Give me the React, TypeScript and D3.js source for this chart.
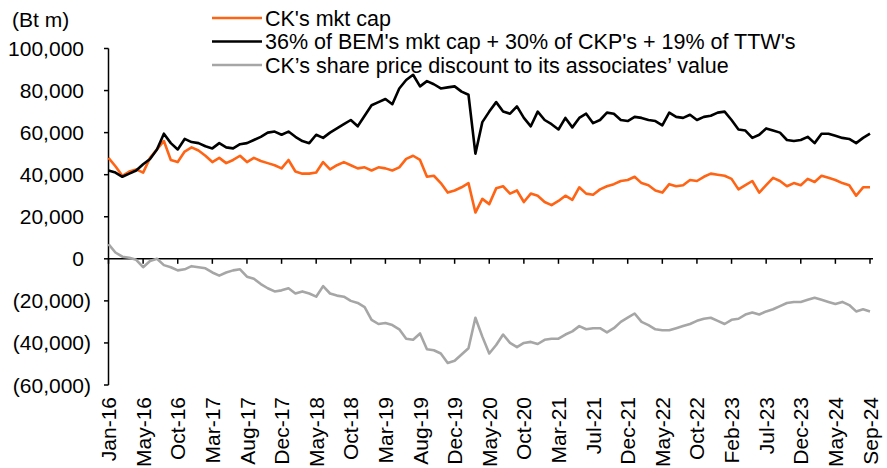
import React from 'react';
import * as d3 from 'd3';

// x axis is a category axis: one label every 5 points (~100 trading days)
const xLabels = [
  'Jan-16', 'May-16', 'Oct-16', 'Mar-17', 'Aug-17', 'Dec-17', 'May-18', 'Oct-18',
  'Mar-19', 'Aug-19', 'Dec-19', 'May-20', 'Oct-20', 'Mar-21', 'Jul-21', 'Dec-21',
  'May-22', 'Oct-22', 'Feb-23', 'Jul-23', 'Dec-23', 'May-24', 'Sep-24',
];

const yTicks = [100000, 80000, 60000, 40000, 20000, 0, -20000, -40000, -60000];

// values in Bt bn (x1000 -> Bt m)
const ckMktCap = [
  48, 44, 39.5, 41.5, 42.5, 41, 48, 52, 56, 47,
  46, 51, 53, 51.5, 49, 46, 48, 45.5, 47, 49,
  46, 48, 46.5, 45.5, 44.5, 43, 47, 41.5, 40.5, 40.5,
  41, 46, 42.5, 44.5, 46, 44.5, 43, 43.5, 42, 43.5,
  43, 42, 43.5, 47.5, 49, 47, 39, 39.5, 36, 31.5,
  32.5, 34, 36, 22, 28.5, 26, 33.5, 34.5, 31, 32.5,
  27, 31, 30, 27, 25.5, 27.5, 30, 28, 34, 31,
  30.5, 33, 34.5, 35.5, 37, 37.5, 39, 36, 35, 32.5,
  31.5, 35.5, 34.5, 35, 37.5, 37, 39, 40.5, 40, 39.5,
  38, 33, 35, 37, 31.5, 35, 38.5, 37, 34.5, 36,
  35, 38, 36.5, 39.5, 38.5, 37.5, 36, 35, 30, 34,
  34,
];

const associatesValue = [
  42, 41, 39, 40.5, 42, 45, 47.5, 52, 59.5, 55,
  52, 57, 55.5, 55, 53.5, 52.5, 55, 53, 52.5, 54.5,
  55, 56.5, 58, 60, 60.5, 59, 60.5, 58, 56, 55,
  59, 57.5, 60, 62, 64, 66, 63, 68, 73, 74.5,
  76, 73.5, 81, 85, 87.5, 82, 84.5, 83, 81, 81.5,
  82, 79.5, 78, 50, 65, 70, 74.5, 70, 69, 72.5,
  67, 63, 70, 66, 64, 61.5, 67, 62.5, 67, 69,
  64.5, 66, 69.5, 69, 66, 65.5, 67.5, 67, 66, 65.5,
  63.5, 69.5, 67.5, 67, 68.5, 66, 67.5, 68, 69.5, 70,
  66, 61.5, 61, 57.5, 59, 62, 61, 60, 56.5, 56,
  56.5, 58, 55, 59.5, 59.5, 58.5, 57.5, 57, 55, 57.5,
  59.5,
];

const discount = [
  7, 3, 1, 0.5, -0.5, -4, -1, 0, -3, -4,
  -5.5, -5, -3.5, -4, -4.5, -6.5, -8, -6.5, -5.5, -5,
  -8.5, -9.5, -12, -14, -15.5, -15, -14, -16.5, -15.5, -16.5,
  -18, -13, -16.5, -17.5, -18, -20, -21, -23, -29, -31,
  -30.5, -31.5, -33.5, -38, -38.5, -35.5, -43, -43.5, -45, -49.5,
  -48.5, -45.5, -42.5, -28, -37, -45, -41, -36, -40, -42,
  -40, -39.5, -40.5, -38.5, -38, -38, -36, -34.5, -32, -33.5,
  -33, -33, -35, -33, -30, -28, -26, -30, -31.5, -33.5,
  -34, -34, -33, -32, -31, -29.5, -28.5, -28, -29.5, -31,
  -29, -28.5, -26.5, -25.5, -26.5, -25, -24, -22.5, -21, -20.5,
  -20.5, -19.5, -18.5, -19.5, -20.5, -21.5, -20.5, -22, -25, -24,
  -25,
];

const seriesNames = [
  "CK's mkt cap",
  "36% of BEM's mkt cap + 30% of CKP's + 19% of TTW's",
  'CK\u2019s share price discount to its associates\u2019 value',
];
const seriesColors = ['#FF6414', '#000000', '#A6A6A6'];

const W = 887;
const H = 468;
const FONT = "Arial, 'Liberation Sans', sans-serif";
const FS = 21;

export default function App() {
  const n = ckMktCap.length;
  const x = d3.scaleLinear().domain([0, 110]).range([108.5, 870]);
  const y = d3.scaleLinear().domain([-60000, 100000]).range([385, 48.5]);

  const line = d3.line<number>()
    .x((_, i) => x(i))
    .y((d) => y(d * 1000));

  const fmt = (v: number) => {
    const s = d3.format(',')(Math.abs(v));
    return v < 0 ? `(${s})` : s;
  };

  const series = [ckMktCap, associatesValue, discount];
  // draw order: grey, orange, black on top
  const order = [2, 0, 1];

  return (
    <svg
      width={W}
      height={H}
      style={{ position: 'absolute', left: 0, top: 0, background: '#fff' }}
      fontFamily={FONT}
    >
      {/* unit label */}
      <text x={12} y={27} fontSize={FS} fill="#000">(Bt m)</text>

      {/* y axis */}
      <line x1={108.5} x2={108.5} y1={y(100000)} y2={y(-60000)} stroke="#000" strokeWidth={1.5} />
      {yTicks.map((t) => (
        <g key={t}>
          <line x1={104} x2={108.5} y1={y(t)} y2={y(t)} stroke="#000" strokeWidth={1.5} />
          <text
            x={t < 0 ? 91 : 84}
            y={y(t)}
            dy="0.36em"
            textAnchor="end"
            fontSize={FS}
            fill="#000"
          >
            {fmt(t)}
          </text>
        </g>
      ))}

      {/* x axis on the zero line */}
      <line x1={108.5} x2={x(n - 1) + 3} y1={y(0)} y2={y(0)} stroke="#000" strokeWidth={1.5} />
      {xLabels.map((lab, k) => (
        <line key={lab} x1={x(k * 5)} x2={x(k * 5)} y1={y(0)} y2={y(0) + 5} stroke="#000" strokeWidth={1.5} />
      ))}
      {xLabels.map((lab, k) => (
        <text
          key={lab}
          transform={`translate(${x(k * 5)},397) rotate(-90)`}
          dy="0.36em"
          textAnchor="end"
          fontSize={FS}
          fill="#000"
        >
          {lab}
        </text>
      ))}

      {/* series */}
      {order.map((si) => (
        <path
          key={si}
          d={line(series[si]) ?? ''}
          fill="none"
          stroke={seriesColors[si]}
          strokeWidth={2.6}
          strokeLinejoin="round"
        />
      ))}

      {/* legend */}
      {seriesNames.map((name, i) => (
        <g key={name} transform={`translate(0,${18 + i * 23.5})`}>
          <line x1={212} x2={262} y1={0} y2={0} stroke={seriesColors[i]} strokeWidth={2.6} />
          <text x={265} y={0} dy="0.36em" fontSize={21.5} fill="#000">{name}</text>
        </g>
      ))}
    </svg>
  );
}
